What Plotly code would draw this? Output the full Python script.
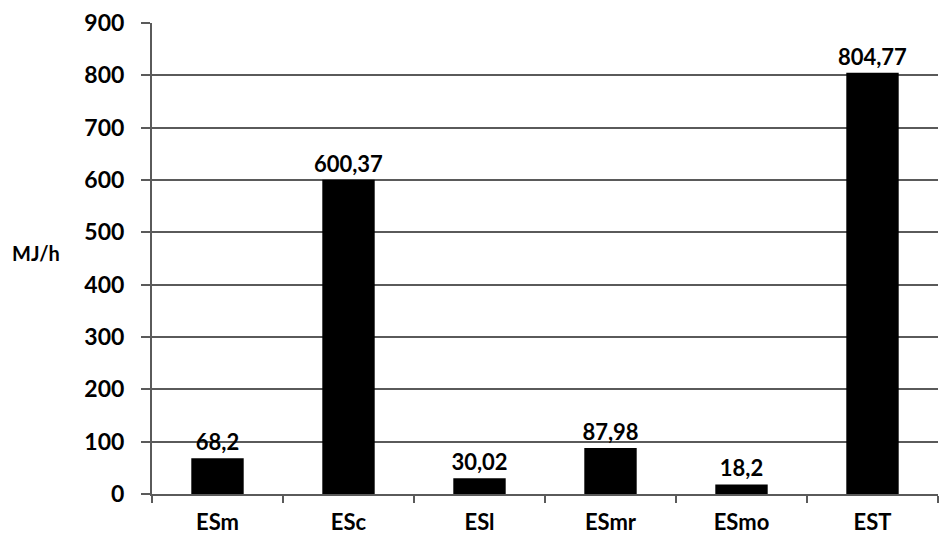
import plotly.graph_objects as go

categories = ["ESm", "ESc", "ESl", "ESmr", "ESmo", "EST"]
values = [68.2, 600.37, 30.02, 87.98, 18.2, 804.77]
labels = ["68,2", "600,37", "30,02", "87,98", "18,2", "804,77"]
y_ticks = [0, 100, 200, 300, 400, 500, 600, 700, 800, 900]

FONT = "Lato"
AX = "#5a5a5a"

fig = go.Figure(go.Bar(
    x=categories, y=values, width=0.4,
    marker=dict(color="black", line=dict(width=0)),
    text=labels, textposition="outside", cliponaxis=False,
    textfont=dict(family=FONT, size=22, color="black", weight="bold"),
))

fig.update_layout(
    width=945, height=546,
    margin=dict(l=152, r=7, t=23, b=52),
    paper_bgcolor="white", plot_bgcolor="white",
    showlegend=False,
    uniformtext=dict(minsize=22, mode="show"),
    font=dict(family=FONT, color="black"),
    annotations=[dict(text="<b>MJ/h</b>", x=0, xref="paper", xanchor="left",
                      y=460, yref="y", yanchor="middle", showarrow=False,
                      xshift=-142, font=dict(family=FONT, size=20, color="black"))],
)
fig.update_xaxes(
    showline=True, linecolor=AX, linewidth=2,
    ticks="outside", tickson="boundaries", ticklen=7, tickcolor=AX, tickwidth=2,
    tickfont=dict(family=FONT, size=22, color="black", weight="bold"),
    ticklabelstandoff=8,
    showgrid=False,
)
fig.update_yaxes(
    range=[0, 900], tickvals=y_ticks,
    showline=True, linecolor=AX, linewidth=2,
    ticks="outside", ticklen=9, tickcolor=AX, tickwidth=2,
    showgrid=True, gridcolor=AX, gridwidth=2, zeroline=False,
    tickfont=dict(family=FONT, size=23, color="black", weight="bold"),
    ticklabelstandoff=12,
)
fig.write_html("out.html")
